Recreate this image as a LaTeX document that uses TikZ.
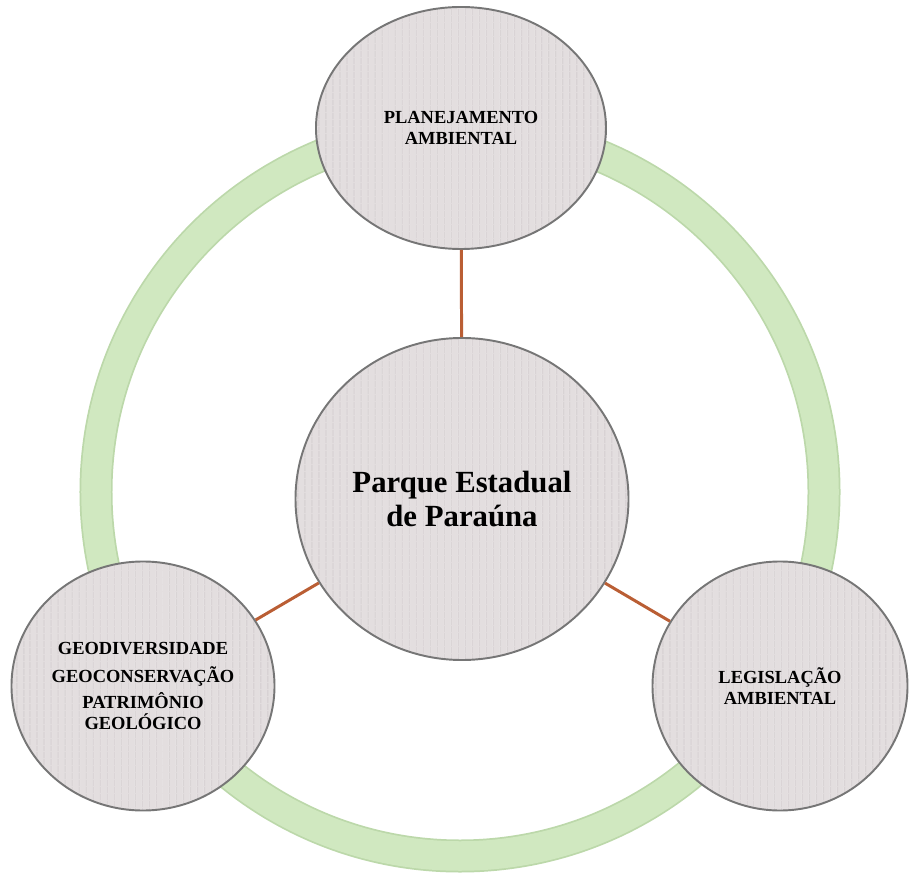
\documentclass[tikz,border=0pt]{standalone}
\usepackage{fontspec}
\setmainfont{Liberation Serif}
\usetikzlibrary{shapes.geometric,patterns.meta}
\definecolor{bubblefill}{RGB}{227,222,223}
\definecolor{bubblestripe}{RGB}{210,204,206}
\definecolor{bubbleline}{RGB}{118,118,118}
\definecolor{ringgreen}{RGB}{208,232,192}
\definecolor{ringedge}{RGB}{188,216,170}
\definecolor{linkbrown}{RGB}{186,94,52}

\begin{document}
\begin{tikzpicture}[x=0.2mm,y=0.2mm,
    bubble/.style={
% The shape:
ellipse, inner sep=0pt,
% The fill:
preaction={fill=bubblefill},
pattern={Lines[angle=90,distance=4pt,line width=0.6pt]},
pattern color=bubblestripe,
% The border:
draw=bubbleline, line width=1.1pt,
% The text:
align=center, font=\bfseries\fontsize{10.5}{12}\selectfont,
},
    hub/.style={
bubble,
% The text:
font=\bfseries\fontsize{17.5}{19}\selectfont,
},
    link/.style={
% The line:
draw=linkbrown, line width=1.7pt,
},
]
  \useasboundingbox (0,0) rectangle (909,874);

  % green ring behind everything
  \draw [ringedge, line width=6.6mm]  (460,382) circle [radius=72.8mm];
  \draw [ringgreen, line width=5.9mm] (460,382) circle [radius=72.8mm];

  \node[hub, minimum width=66.6mm, minimum height=64.4mm]
    (park) at (462, 375) {Parque Estadual\\de Paraúna};
  \node[bubble, minimum width=58mm, minimum height=48.4mm]
    (plan) at (461, 746) {PLANEJAMENTO\\AMBIENTAL};
  \node[bubble, minimum width=52.6mm, minimum height=49.8mm]
    (geo) at (143, 188)
    {GEODIVERSIDADE\\[4pt]GEOCONSERVAÇÃO\\[3pt]PATRIMÔNIO\\GEOLÓGICO};
  \node[bubble, minimum width=51mm, minimum height=49.8mm]
    (law) at (780, 188) {LEGISLAÇÃO\\AMBIENTAL};

  \draw [link] (park) -- (plan);
  \draw [link] (park) -- (geo);
  \draw [link] (park) -- (law);

\end{tikzpicture}
\end{document}
